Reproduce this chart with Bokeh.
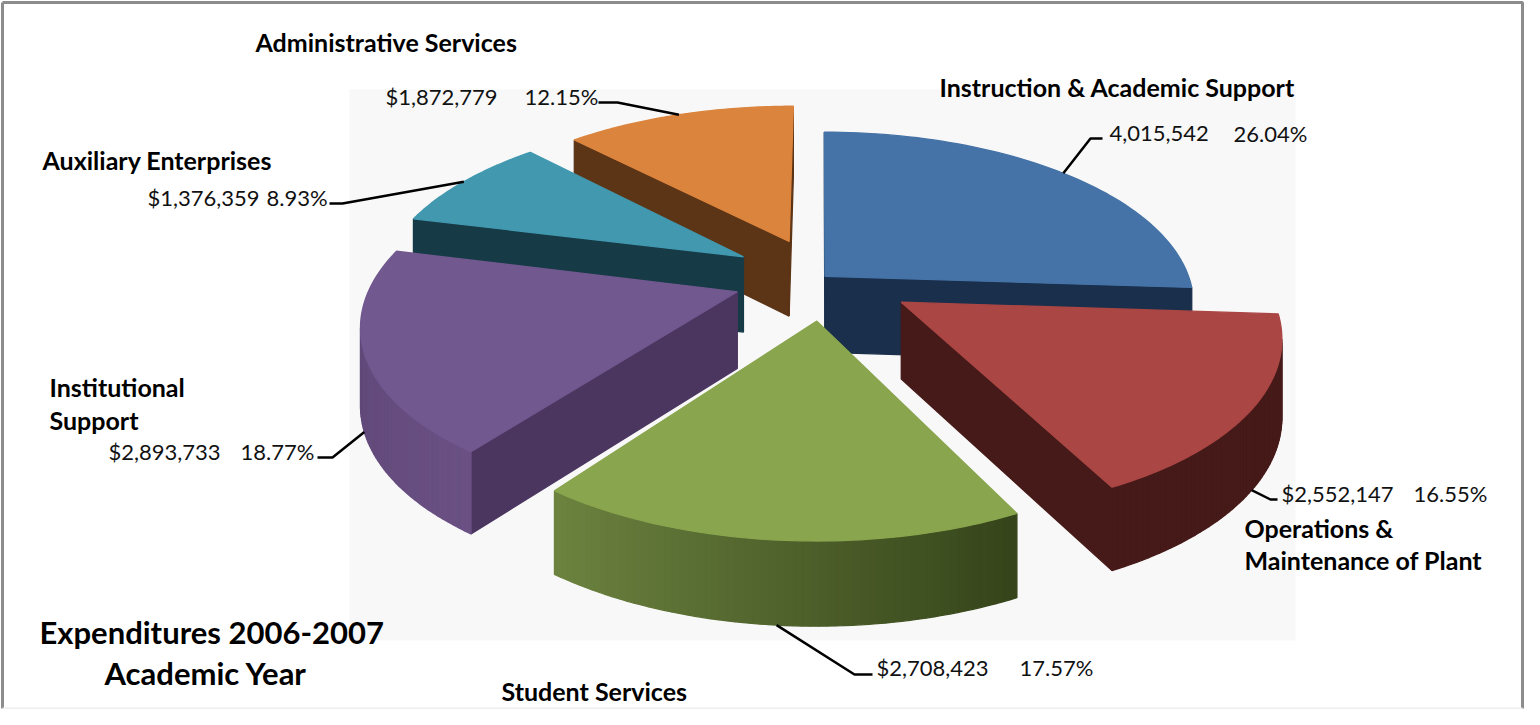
import math
from bokeh.plotting import figure
from bokeh.core.properties import value
from bokeh.embed import file_html
from bokeh.resources import INLINE

# ---- data -------------------------------------------------------------
categories = ["Instruction & Academic Support", "Operations & Maintenance of Plant", "Student Services",
              "Institutional Support", "Auxiliary Enterprises", "Administrative Services"]
amounts = [4015542, 2552147, 2708423, 2893733, 1376359, 1872779]
amount_labels = ["4,015,542", "$2,552,147", "$2,708,423", "$2,893,733", "$1,376,359", "$1,872,779"]
percent_labels = ["26.04%", "16.55%", "17.57%", "18.77%", "8.93%", "12.15%"]

# ---- styling / layout ---------------------------------------------------
explode = [0.01, 0.26, 0.25, 0.25, 0.25, 0.24]
nudge_x = [0.005, 0.0, 0.012, 0.01, 0.0, 0.0]
top_col = ["#4573a7", "#aa4644", "#89a54e", "#71588f", "#4198af", "#db843d"]
wall_col = ["#1a2f4b", "#451a18", "#56692f", "#4b3660", "#173b46", "#5c3416"]
arc_col_a = ["#1a2f4b", "#451a18", "#35441a", "#6a5083", "#173b46", "#5c3416"]
arc_col_b = ["#1a2f4b", "#451a18", "#6d8440", "#5a4472", "#173b46", "#5c3416"]
paint_order = [0, 5, 4, 3, 1, 2]
elbows = [[(1098, 146), (1110, 146)], [(1278, 507), (1285, 507)], [(862, 682), (880, 682)],
          [(340, 465), (325, 465)], [(350, 211), (337, 211)], [(625, 110), (606, 110)]]
leader_z = [0, 1, 1, 1, 0, 0]
amount_pos = [(1117, 141), (1289, 501), (884, 675), (116, 459), (155, 205), (393, 104)]
percent_pos = [(1241, 141), (1421, 501), (1027, 675), (248, 459), (274, 205), (532, 104)]
name_lines = [("Instruction & Academic Support", 947, 94), ("Operations &", 1252, 535),
              ("Maintenance of Plant", 1252, 567), ("Student Services", 509, 698),
              ("Institutional", 57, 394), ("Support", 57, 427),
              ("Auxiliary Enterprises", 50, 167), ("Administrative Services", 263, 49)]
title_lines = [("Expenditures 2006-2007", 47, 639), ("Academic Year", 112, 680)]

CX, CY, FX, FY, K, H = 828, 285, 364, 168, 0.163, 76


def proj(X, Y, Z=0.0):
    s = 1 / (1 + K * Y)
    return CX + FX * X * s, CY - FY * Y * s + H * Z * s ** 0.5


def mix(a, b, t):
    ca = [int(a[i:i + 2], 16) for i in (1, 3, 5)]
    cb = [int(b[i:i + 2], 16) for i in (1, 3, 5)]
    return "#%02x%02x%02x" % tuple(round(x + (y - x) * t) for x, y in zip(ca, cb))


total = sum(amounts)
starts, cum = [], 0.0
for a in amounts:
    starts.append(cum / total * 2 * math.pi)
    cum += a
ends = starts[1:] + [2 * math.pi]

p = figure(width=1524, height=709, x_range=(8, 1532), y_range=(717, 8), output_backend="svg",
           toolbar_location=None, min_border=0, outline_line_color=None, background_fill_color="white")
p.xaxis.visible = False
p.yaxis.visible = False
p.grid.visible = False

p.quad(left=[357], right=[1303], top=[97], bottom=[648], fill_color="#f8f8f8", line_color=None)

xs, ys, fills = [], [], []
for i in paint_order:
    mid = (starts[i] + ends[i]) / 2
    ox, oy = explode[i] * math.sin(mid) + nudge_x[i], explode[i] * math.cos(mid)
    n = 60
    angs = [starts[i] + (ends[i] - starts[i]) * j / n for j in range(n + 1)]
    world = [(ox, oy)] + [(ox + math.sin(t), oy + math.cos(t)) for t in angs] + [(ox, oy)]
    m = len(world) - 1
    for j in range(m):
        A, B = world[j], world[j + 1]
        a0, b0 = proj(*A), proj(*B)
        if b0[0] >= a0[0]:
            continue
        a1, b1 = proj(*A, 1), proj(*B, 1)
        xs.append([a0[0], b0[0], b1[0], a1[0]])
        ys.append([a0[1], b0[1], b1[1], a1[1]])
        if j == 0 or j == m - 1:
            fills.append(wall_col[i])
        else:
            fills.append(mix(arc_col_a[i], arc_col_b[i], (j - 1) / n))
    pts = [proj(*w) for w in world[:-1]]
    xs.append([q[0] for q in pts])
    ys.append([q[1] for q in pts])
    fills.append(top_col[i])

p.patches(xs, ys, fill_color=fills, line_color=fills, line_width=1.3)

for i in range(6):
    mid = (starts[i] + ends[i]) / 2
    ox, oy = explode[i] * math.sin(mid) + nudge_x[i], explode[i] * math.cos(mid)
    sx, sy = proj(ox + math.sin(mid), oy + math.cos(mid), leader_z[i])
    lx = [sx] + [e[0] for e in elbows[i]]
    ly = [sy] + [e[1] for e in elbows[i]]
    p.line(lx, ly, line_color="black", line_width=2.5)

p.text([q[0] for q in amount_pos], [q[1] for q in amount_pos], text=amount_labels,
       text_font=value("Lato"), text_font_size="22px", text_baseline="middle", text_align="left", text_color="#111111")
p.text([q[0] for q in percent_pos], [q[1] for q in percent_pos], text=percent_labels,
       text_font=value("Lato"), text_font_size="22px", text_baseline="middle", text_align="left", text_color="#111111")
p.text([n[1] for n in name_lines], [n[2] for n in name_lines], text=[n[0] for n in name_lines],
       text_font=value("Lato"), text_font_size="25px", text_font_style="bold", text_baseline="middle",
       text_align="left", text_color="black")
p.text([n[1] for n in title_lines], [n[2] for n in title_lines], text=[n[0] for n in title_lines],
       text_font=value("Lato"), text_font_size="31px", text_font_style="bold", text_baseline="middle",
       text_align="left", text_color="black")

# frame
p.line([10, 1530, 1530], [10, 10, 716], line_color="#8c8c8c", line_width=3)
p.line([10, 10], [10, 716], line_color="#8c8c8c", line_width=3)
p.line([10, 1530], [716, 716], line_color="#eeeeee", line_width=2)

open("out.html", "w").write(file_html(p, INLINE))
